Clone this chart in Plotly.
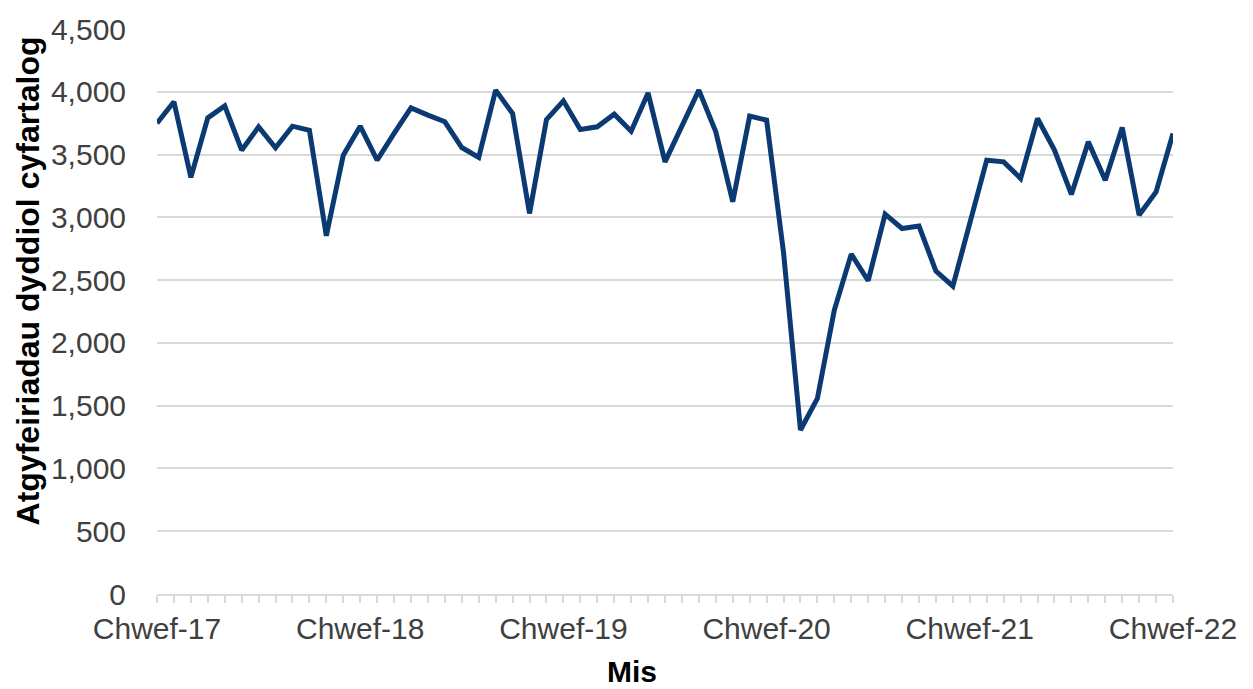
import plotly.graph_objects as go

# Monthly categories (Feb 2017 - Feb 2022), Welsh month abbreviations
welsh_months = ["Ion", "Chwef", "Maw", "Ebr", "Mai", "Meh",
                "Gorff", "Awst", "Medi", "Hyd", "Tach", "Rhag"]
months = []
for k in range(61):
    m = (1 + k) % 12
    y = 17 + (1 + k) // 12
    months.append(f"{welsh_months[m]}-{y}")

values = [3750, 3920, 3318, 3792, 3888, 3535, 3721, 3554, 3726, 3694,
          2853, 3495, 3726, 3455, 3668, 3872, 3814, 3761, 3556, 3477,
          4013, 3827, 3031, 3779, 3928, 3700, 3721, 3822, 3686, 3991,
          3442, 3734, 4013, 3681, 3124, 3806, 3774, 2720, 1306, 1558,
          2261, 2707, 2495, 3025, 2911, 2930, 2572, 2452, 2965, 3455,
          3442, 3310, 3787, 3535, 3182, 3601, 3296, 3715, 3018, 3203,
          3668]

tick_text = [m if m.startswith("Chwef") else "" for m in months]
y_ticks = [0, 500, 1000, 1500, 2000, 2500, 3000, 3500, 4000, 4500]

fig = go.Figure()
fig.add_trace(go.Scatter(
    x=months, y=values, mode="lines",
    line=dict(color="#0b3a73", width=5),
    hovertemplate="%{x}: %{y:,}<extra></extra>",
))

font_family = "Liberation Sans, Arial, sans-serif"

fig.update_layout(
    width=1253, height=689,
    margin=dict(l=157, r=80, t=29, b=95),
    paper_bgcolor="white", plot_bgcolor="white",
    showlegend=False,
    font=dict(family=font_family, size=30, color="#404040"),
    xaxis=dict(
        type="category",
        range=[0, 60],
        tickmode="array", tickvals=months, ticktext=tick_text,
        ticks="outside", ticklen=7, tickcolor="#d9d9d9", tickwidth=1.5,
        showline=True, linecolor="#d9d9d9", linewidth=1.5,
        showgrid=False, zeroline=False,
        tickangle=0,
        tickfont=dict(size=30, color="#404040"),
    ),
    yaxis=dict(
        range=[0, 4500],
        tickmode="array", tickvals=y_ticks,
        tickformat=",",
        showgrid=True, gridcolor="#d9d9d9", gridwidth=1.5,
        showline=False, zeroline=False,
        ticks="", ticklabelstandoff=30,
        tickfont=dict(size=30, color="#404040"),
    ),
    annotations=[
        dict(text="<b>Atgyfeiriadau dyddiol cyfartalog</b>",
             xref="paper", yref="paper", x=-0.127, y=0.555,
             xanchor="center", yanchor="middle", textangle=-90,
             showarrow=False, font=dict(size=32, color="black", family=font_family)),
        dict(text="<b>Mis</b>",
             xref="paper", yref="paper", x=0.4675, y=-0.138,
             xanchor="center", yanchor="middle",
             showarrow=False, font=dict(size=30, color="black", family=font_family)),
    ],
)

fig.write_html("out.html", config={"displayModeBar": False},
               post_script="document.body.style.margin='0px';")
